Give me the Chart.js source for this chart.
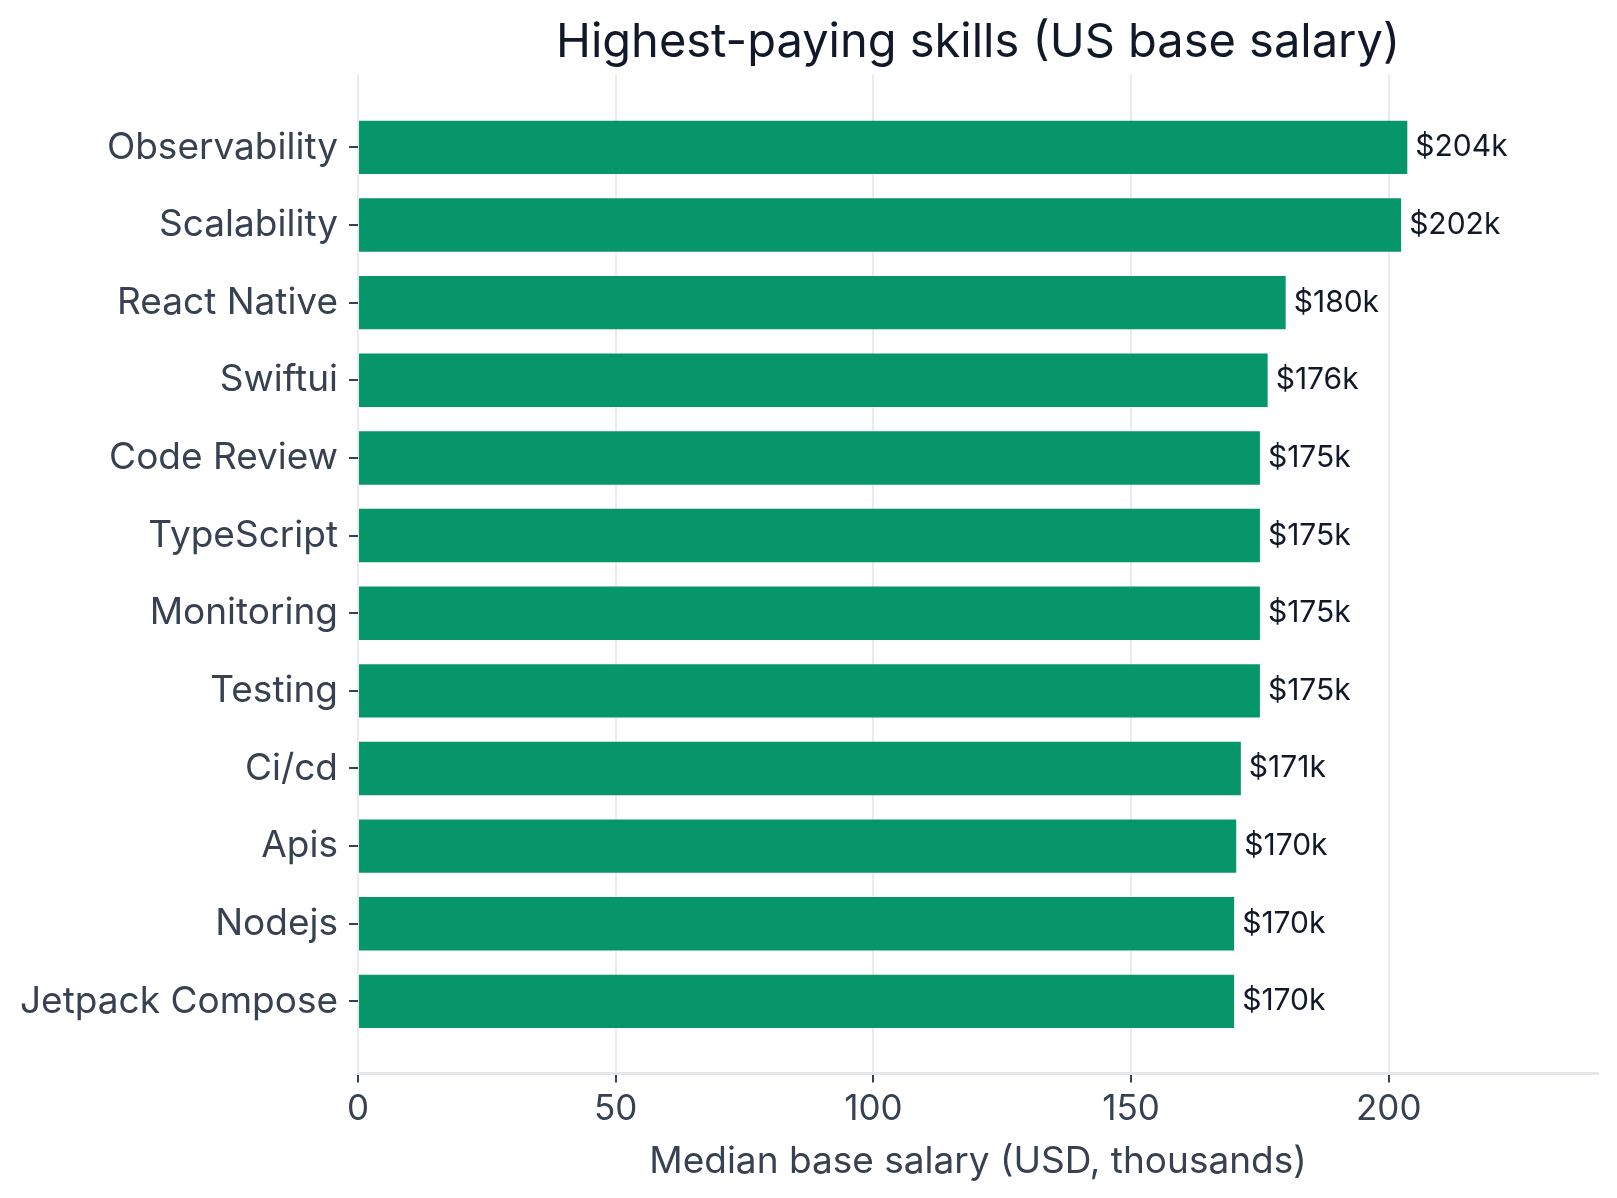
<!DOCTYPE html>
<html>
<head>
    <title>Highest-paying skills</title>
    <script src="https://cdn.jsdelivr.net/npm/chart.js"></script>
    <style>
        body { margin: 0; background: #fff; }
    </style>
</head>
<body>
    <canvas id="skillsChart" width="1617" height="1198"></canvas>
    <script>
        const skills = ['Observability', 'Scalability', 'React Native', 'Swiftui', 'Code Review', 'TypeScript',
            'Monitoring', 'Testing', 'Ci/cd', 'Apis', 'Nodejs', 'Jetpack Compose'];
        const salaries = [203.6, 202.4, 180.0, 176.5, 175.0, 175.0, 175.0, 175.0, 171.3, 170.4, 170.0, 170.0];
        const salaryLabels = ['$204k', '$202k', '$180k', '$176k', '$175k', '$175k', '$175k', '$175k', '$171k', '$170k', '$170k', '$170k'];
        const xTicks = [0, 50, 100, 150, 200];

        const fontFamily = 'Inter, "Noto Sans", sans-serif';

        // writes the salary text just right of each bar
        const barLabels = {
            id: 'barLabels',
            afterDatasetsDraw(chart) {
                const ctx = chart.ctx;
                const meta = chart.getDatasetMeta(0);
                ctx.save();
                ctx.font = '30px ' + fontFamily;
                ctx.fillStyle = '#111827';
                ctx.textAlign = 'left';
                ctx.textBaseline = 'middle';
                meta.data.forEach((bar, i) => {
                    ctx.fillText(salaryLabels[i], bar.x + 8, bar.y);
                });
                ctx.restore();
            }
        };

        new Chart(document.getElementById('skillsChart'), {
            type: 'bar',
            data: {
                datasets: [{
                    data: salaries.map((v, i) => ({ x: v, y: i })),
                    backgroundColor: '#07966a',
                    borderWidth: 0,
                    barPercentage: 0.86,
                    categoryPercentage: 0.8
                }]
            },
            options: {
                indexAxis: 'y',
                responsive: false,
                animation: false,
                layout: { padding: { left: 9, right: 19, top: 8, bottom: 14 } },
                plugins: {
                    legend: { display: false },
                    tooltip: { enabled: false },
                    title: {
                        display: true,
                        fullSize: false,
                        text: 'Highest-paying skills (US base salary)',
                        color: '#111827',
                        font: { family: fontFamily, size: 47, weight: 'normal' },
                        padding: { top: 7, bottom: 3 }
                    }
                },
                scales: {
                    x: {
                        type: 'linear',
                        min: 0,
                        max: 240.6,
                        afterBuildTicks: scale => { scale.ticks = xTicks.map(v => ({ value: v })); },
                        ticks: {
                            color: '#374151',
                            font: { family: fontFamily, size: 35 },
                            padding: 6
                        },
                        grid: {
                            color: '#ebebee',
                            lineWidth: 2,
                            tickColor: '#374151',
                            tickLength: 9
                        },
                        border: { color: '#e5e7eb', width: 3 },
                        title: {
                            display: true,
                            text: 'Median base salary (USD, thousands)',
                            color: '#374151',
                            font: { family: fontFamily, size: 37 },
                            padding: { top: 3, bottom: 0 }
                        }
                    },
                    y: {
                        type: 'linear',
                        reverse: true,
                        offset: false,
                        min: -0.94,
                        max: 11.93,
                        afterBuildTicks: scale => { scale.ticks = skills.map((s, i) => ({ value: i })); },
                        ticks: {
                            color: '#374151',
                            font: { family: fontFamily, size: 37 },
                            padding: 11,
                            callback: v => skills[v]
                        },
                        grid: {
                            offset: false,
                            drawOnChartArea: false,
                            tickColor: '#374151',
                            tickLength: 9,
                            lineWidth: 2
                        },
                        border: { display: false }
                    }
                }
            },
            plugins: [barLabels]
        });
    </script>
</body>
</html>
